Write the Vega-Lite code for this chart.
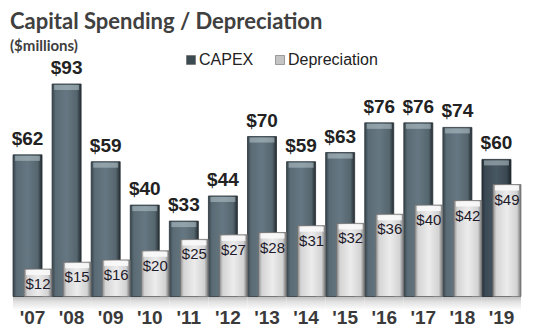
{
  "$schema": "https://vega.github.io/schema/vega-lite/v6.json",
  "autosize": {"type": "none"},
  "width": 508,
  "height": 228.5,
  "padding": {"left": 13, "top": 68, "right": 13, "bottom": 34.5},
  "background": "white",
  "title": {
    "text": "Capital Spending / Depreciation",
    "subtitle": "($millions)",
    "anchor": "start",
    "frame": "group",
    "font": "Lato",
    "fontSize": 22,
    "fontWeight": "bold",
    "color": "#404040",
    "subtitleFont": "Lato",
    "subtitleFontSize": 15,
    "subtitleFontWeight": "bold",
    "subtitleColor": "#404040",
    "subtitlePadding": 5,
    "offset": -3,
    "dx": -3
  },
  "data": {
    "values": [
      {"year": "'07", "CAPEX": 62, "Depreciation": 12},
      {"year": "'08", "CAPEX": 93, "Depreciation": 15},
      {"year": "'09", "CAPEX": 59, "Depreciation": 16},
      {"year": "'10", "CAPEX": 40, "Depreciation": 20},
      {"year": "'11", "CAPEX": 33, "Depreciation": 25},
      {"year": "'12", "CAPEX": 44, "Depreciation": 27},
      {"year": "'13", "CAPEX": 70, "Depreciation": 28},
      {"year": "'14", "CAPEX": 59, "Depreciation": 31},
      {"year": "'15", "CAPEX": 63, "Depreciation": 32},
      {"year": "'16", "CAPEX": 76, "Depreciation": 36},
      {"year": "'17", "CAPEX": 76, "Depreciation": 40},
      {"year": "'18", "CAPEX": 74, "Depreciation": 42},
      {"year": "'19", "CAPEX": 60, "Depreciation": 49}
    ]
  },
  "encoding": {
    "x": {
      "field": "year",
      "type": "nominal",
      "sort": null,
      "scale": {"type": "band", "paddingInner": 0, "paddingOuter": 0},
      "axis": {
        "title": null,
        "domain": false,
        "ticks": false,
        "labelAngle": 0,
        "labelFont": "Liberation Sans",
        "labelFontSize": 19,
        "labelFontWeight": "bold",
        "labelColor": "#3a3a3a",
        "labelPadding": 12
      }
    }
  },
  "layer": [
    {
      "mark": {
        "type": "bar",
        "width": {"band": 1},
        "fill": {
          "gradient": "linear", "x1": 0, "y1": 0, "x2": 0, "y2": 1,
          "stops": [
            {"offset": 0, "color": "#bdbdbd"},
            {"offset": 0.4, "color": "#e2e2e2"},
            {"offset": 1, "color": "#ffffff"}
          ]
        }
      },
      "encoding": {
        "y": {"datum": 0, "type": "quantitative", "scale": {"domain": [0, 100], "nice": false}, "axis": null},
        "y2": {"datum": -6}
      }
    },
    {
      "transform": [{"filter": "datum.year !== \"'19\""}],
      "mark": {
        "type": "bar",
        "width": 29,
        "xOffset": -5,
        "stroke": "#2a3338",
        "strokeWidth": 0.8,
        "fill": {
          "gradient": "linear", "x1": 0, "y1": 0, "x2": 1, "y2": 0,
          "stops": [
            {"offset": 0, "color": "#36434b"},
            {"offset": 0.12, "color": "#5a6b75"},
            {"offset": 0.5, "color": "#657782"},
            {"offset": 0.85, "color": "#56666f"},
            {"offset": 1, "color": "#232b30"}
          ]
        }
      },
      "encoding": {
        "y": {"field": "CAPEX", "type": "quantitative"}
      }
    },
    {
      "transform": [{"filter": "datum.year === \"'19\""}],
      "mark": {
        "type": "bar",
        "width": 29,
        "xOffset": -5,
        "stroke": "#1e262b",
        "strokeWidth": 0.8,
        "fill": {
          "gradient": "linear", "x1": 0, "y1": 0, "x2": 1, "y2": 0,
          "stops": [
            {"offset": 0, "color": "#26313a"},
            {"offset": 0.12, "color": "#3b4954"},
            {"offset": 0.5, "color": "#475762"},
            {"offset": 0.85, "color": "#3a4852"},
            {"offset": 1, "color": "#1c2328"}
          ]
        }
      },
      "encoding": {
        "y": {"field": "CAPEX", "type": "quantitative"}
      }
    },
    {
      "mark": {
        "type": "tick",
        "orient": "horizontal",
        "size": 25,
        "thickness": 5,
        "xOffset": -5,
        "yOffset": 3.5,
        "opacity": 0.55,
        "color": "#b8c6cc"
      },
      "encoding": {
        "y": {"field": "CAPEX", "type": "quantitative"}
      }
    },
    {
      "mark": {
        "type": "text",
        "xOffset": -5,
        "dy": -16,
        "font": "Liberation Sans",
        "fontSize": 19,
        "fontWeight": "bold",
        "color": "#222222"
      },
      "encoding": {
        "y": {"field": "CAPEX", "type": "quantitative"},
        "text": {"field": "CAPEX", "type": "quantitative", "format": "$.0f"}
      }
    },
    {
      "mark": {
        "type": "bar",
        "width": 28,
        "xOffset": 5.5,
        "stroke": "#6e6e6e",
        "strokeWidth": 0.8,
        "fill": {
          "gradient": "linear", "x1": 0, "y1": 0, "x2": 1, "y2": 0,
          "stops": [
            {"offset": 0, "color": "#8a8a8a"},
            {"offset": 0.12, "color": "#d4d4d4"},
            {"offset": 0.5, "color": "#ececec"},
            {"offset": 0.86, "color": "#d2d2d2"},
            {"offset": 1, "color": "#6f6f6f"}
          ]
        }
      },
      "encoding": {
        "y": {"field": "Depreciation", "type": "quantitative"}
      }
    },
    {
      "mark": {
        "type": "tick",
        "orient": "horizontal",
        "size": 24,
        "thickness": 5,
        "xOffset": 5.5,
        "yOffset": 3.5,
        "opacity": 0.9,
        "color": "#fafafa"
      },
      "encoding": {
        "y": {"field": "Depreciation", "type": "quantitative"}
      }
    },
    {
      "mark": {
        "type": "text",
        "xOffset": 5.5,
        "dy": 15,
        "font": "Liberation Sans",
        "fontSize": 15,
        "color": "#1e1a2a"
      },
      "encoding": {
        "y": {"field": "Depreciation", "type": "quantitative"},
        "text": {"field": "Depreciation", "type": "quantitative", "format": "$.0f"}
      }
    },
    {
      "transform": [{"fold": ["CAPEX", "Depreciation"], "as": ["series", "amount"]}],
      "mark": {"type": "square", "opacity": 0},
      "encoding": {
        "y": {"field": "amount", "type": "quantitative"},
        "color": {
          "field": "series",
          "type": "nominal",
          "scale": {"domain": ["CAPEX", "Depreciation"], "range": ["#3c4a52", "#c4c4c4"]},
          "legend": {
            "orient": "none",
            "legendX": 170,
            "legendY": -16,
            "direction": "horizontal",
            "title": null,
            "symbolType": "square",
            "symbolSize": 81,
            "symbolOpacity": 1,
            "symbolStrokeColor": "#555555",
            "symbolStrokeWidth": 0.5,
            "labelFont": "Liberation Sans",
            "labelFontSize": 16,
            "labelColor": "#222222",
            "labelOffset": 0,
            "columnPadding": 18
          }
        }
      }
    }
  ],
  "config": {
    "view": {"stroke": null}
  }
}
